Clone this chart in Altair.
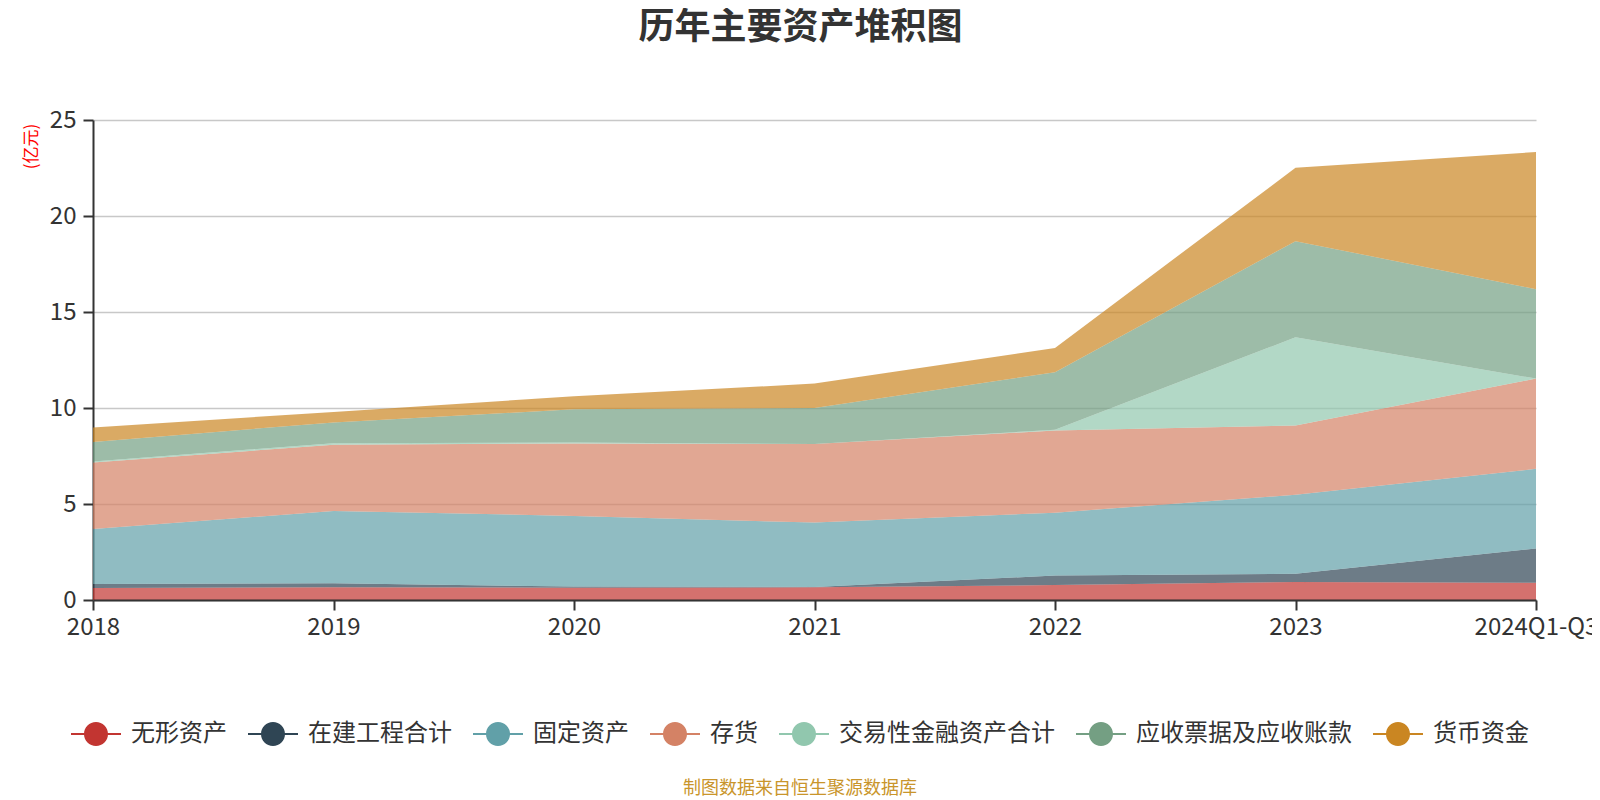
import altair as alt
import pandas as pd

years = ["2018", "2019", "2020", "2021", "2022", "2023", "2024Q1-Q3"]
series = ["无形资产", "在建工程合计", "固定资产", "存货", "交易性金融资产合计", "应收票据及应收账款", "货币资金"]
colors = ["#c23531", "#2f4554", "#61a0a8", "#d48265", "#91c7ae", "#749f83", "#ca8622"]

intangible = [0.63, 0.66, 0.64, 0.66, 0.78, 0.94, 0.90]
construction = [0.20, 0.21, 0.06, 0.02, 0.49, 0.43, 1.78]
fixed_assets = [2.87, 3.77, 3.68, 3.35, 3.28, 4.11, 4.15]
inventory = [3.46, 3.45, 3.77, 4.09, 4.28, 3.61, 4.70]
trading_fin = [0.05, 0.08, 0.05, 0.00, 0.04, 4.59, 0.00]
receivables = [1.02, 1.08, 1.73, 1.88, 2.99, 5.01, 4.66]
cash = [0.76, 0.54, 0.68, 1.27, 1.27, 3.82, 7.14]

values = [intangible, construction, fixed_assets, inventory, trading_fin, receivables, cash]

rows = []
for si, (name, vals) in enumerate(zip(series, values)):
    for yr, v in zip(years, vals):
        rows.append({"year": yr, "series": name, "value": v, "order": si})
df = pd.DataFrame(rows)

FONT = "Noto Sans CJK SC"
symbol_path = (
    "M-1,-0.04L-0.47,-0.04L-0.47,0.04L-1,0.04Z "
    "M0.47,-0.04L1,-0.04L1,0.04L0.47,0.04Z "
    "M0.48,0A0.48,0.48,0,1,1,-0.48,0A0.48,0.48,0,1,1,0.48,0Z"
)

area = alt.Chart(df).mark_area(opacity=0.7, interpolate="linear").encode(
    x=alt.X(
        "year:O", sort=years, scale=alt.Scale(padding=0),
        axis=alt.Axis(
            title=None, labelAngle=0, labelFont=FONT, labelFontSize=24, labelColor="#333",
            tickSize=10, tickColor="#333", tickWidth=2, domainColor="#333", domainWidth=2,
            labelPadding=5, grid=False, labelOverlap=False, zindex=1,
        ),
    ),
    y=alt.Y(
        "value:Q", stack="zero", scale=alt.Scale(domain=[0, 25], nice=False),
        axis=alt.Axis(
            values=[0, 5, 10, 15, 20, 25], title="(亿元)", labelFont=FONT, labelFontSize=24,
            labelColor="#333", tickSize=10, tickColor="#333", tickWidth=2, domainColor="#333",
            domainWidth=2, labelPadding=7, grid=True, gridColor="#c8c8c8", gridWidth=1.5,
            titleFont=FONT, titleFontSize=17, titleColor="#ff0000", titleFontWeight="normal",
            titleAngle=270, titleX=-62, titleY=26, titleAlign="center", titleBaseline="middle",
        ),
    ),
    color=alt.Color(
        "series:N", sort=series, scale=alt.Scale(domain=series, range=colors),
        legend=alt.Legend(
            title=None, orient="none", legendX=-22, legendY=589, direction="horizontal",
            columns=7, symbolType=symbol_path, symbolSize=2500, symbolStrokeWidth=0,
            symbolOpacity=1, labelFont=FONT, labelFontSize=24, labelColor="#333",
            labelOffset=10, columnPadding=21, labelLimit=400, padding=0,
        ),
    ),
    order=alt.Order("order:Q", sort="ascending"),
)

footer = alt.Chart(alt.Data(values=[{"t": "制图数据来自恒生聚源数据库"}])).mark_text(
    font=FONT, fontSize=18, color="#c9952b", align="center", baseline="middle"
).encode(x=alt.value(707), y=alt.value(669), text="t:N")

chart = alt.layer(area, footer).properties(
    width=1443,
    height=480,
    title=alt.TitleParams(
        text="历年主要资产堆积图", font=FONT, fontSize=36, fontWeight="bold", color="#333",
        anchor="middle", dx=-14, offset=61,
    ),
    autosize=alt.AutoSizeParams(type="none"),
    padding={"left": 85, "top": 112, "right": 56, "bottom": 200},
).configure_view(stroke=None)

chart.save("out.html", embed_options={"renderer": "svg", "actions": False})
